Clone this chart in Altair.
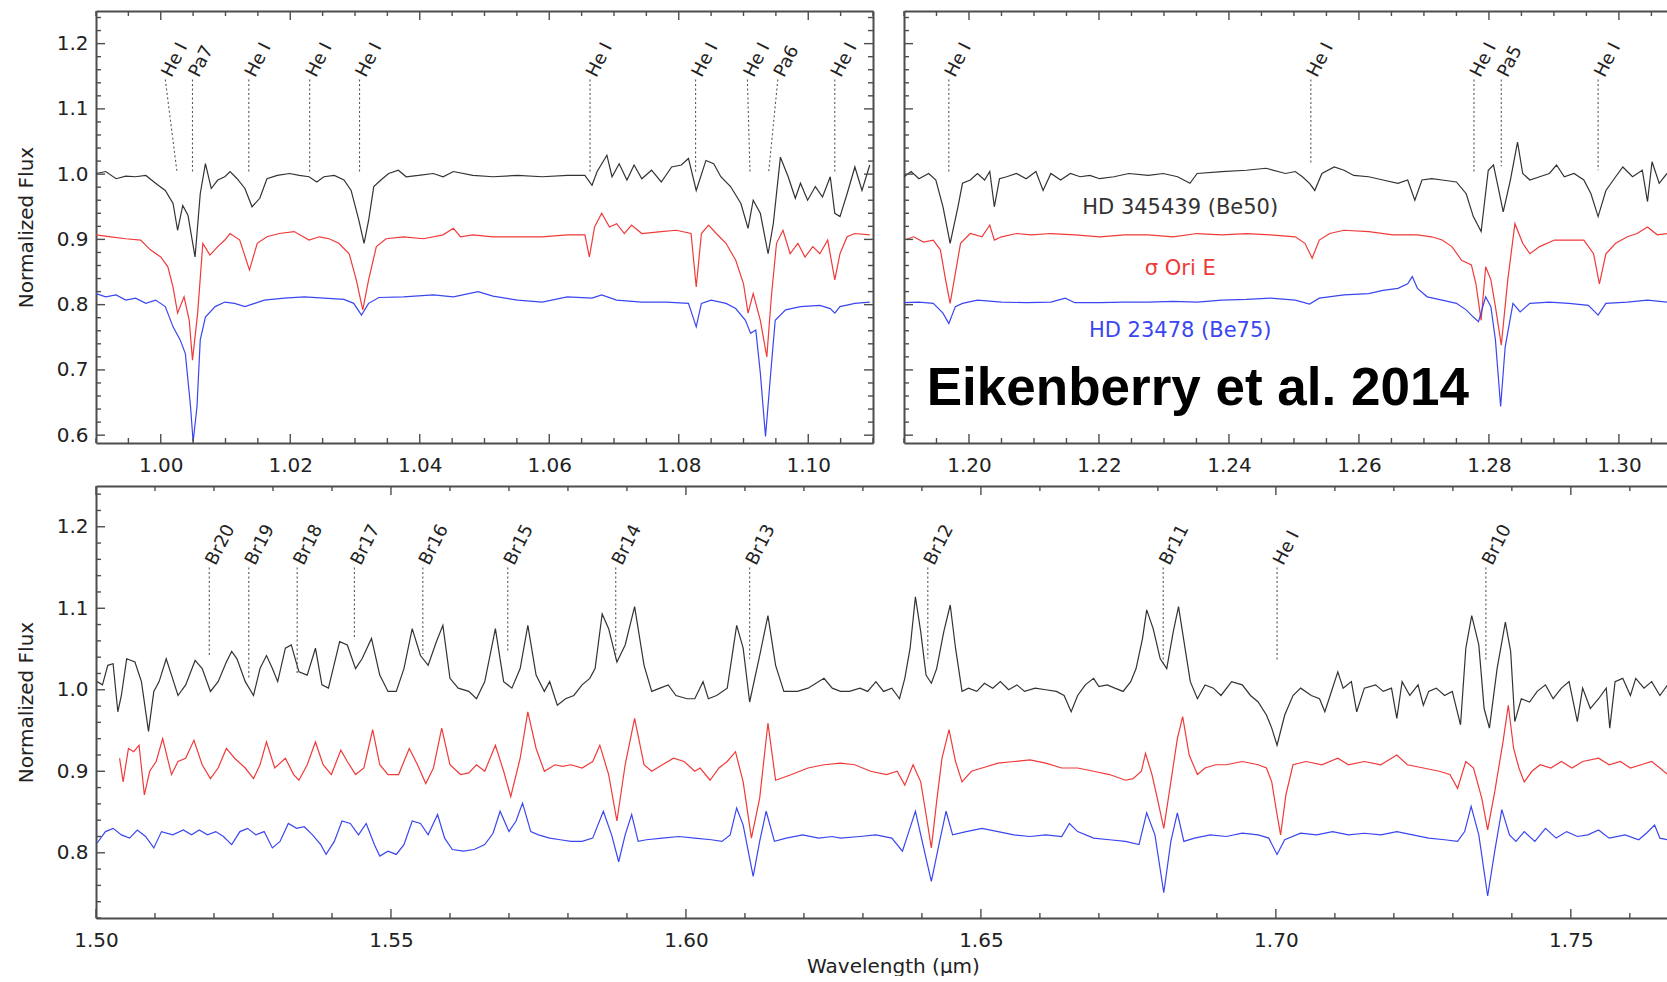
import altair as alt
import numpy as np
import pandas as pd

FONT = "DejaVu Sans"
INK = "#222222"
FRAME = "#4d4d4d"

STAR_NAMES = ["HD 345439 (Be50)", "σ Ori E", "HD 23478 (Be75)"]
STAR_COLORS = ["#333333", "#f03a3a", "#3a46f0"]

# ---------------------------------------------------------------
# Spectra as (wavelength [micron], normalized flux incl. offset)
# ---------------------------------------------------------------
# 0.99 - 1.11 micron
J1_BLACK = [
    (0.9900, 1.001), (0.9915, 1.004), (0.9931, 0.993), (0.9946, 0.997), (0.9961, 0.996),
    (0.9977, 0.998), (0.9992, 0.986), (1.0007, 0.975), (1.0019, 0.955), (1.0026, 0.914),
    (1.0034, 0.952), (1.0042, 0.937), (1.0053, 0.873), (1.0061, 0.970), (1.0069, 1.016),
    (1.0078, 0.978), (1.0088, 0.991), (1.0099, 0.996), (1.0107, 1.004), (1.0118, 0.993),
    (1.0130, 0.978), (1.0141, 0.950), (1.0153, 0.963), (1.0164, 0.993), (1.0180, 0.998),
    (1.0199, 1.001), (1.0214, 0.998), (1.0229, 0.996), (1.0241, 0.988), (1.0252, 0.996),
    (1.0268, 0.998), (1.0283, 0.991), (1.0294, 0.975), (1.0306, 0.929), (1.0314, 0.894),
    (1.0321, 0.929), (1.0329, 0.981), (1.0340, 0.991), (1.0352, 1.001), (1.0367, 1.006),
    (1.0379, 0.996), (1.0398, 0.998), (1.0421, 1.001), (1.0436, 0.996), (1.0452, 1.004),
    (1.0482, 0.998), (1.0513, 0.996), (1.0551, 0.998), (1.0589, 0.996), (1.0628, 0.998),
    (1.0655, 0.998), (1.0666, 0.983), (1.0674, 1.004), (1.0689, 1.029), (1.0697, 0.996),
    (1.0708, 1.016), (1.0720, 0.991), (1.0731, 1.014), (1.0743, 0.993), (1.0758, 1.006),
    (1.0773, 0.988), (1.0789, 1.011), (1.0804, 1.014), (1.0815, 1.024), (1.0827, 0.975),
    (1.0842, 1.021), (1.0854, 1.016), (1.0865, 0.996), (1.0880, 0.981), (1.0896, 0.955),
    (1.0907, 0.917), (1.0915, 0.960), (1.0926, 0.940), (1.0938, 0.878), (1.0946, 0.924),
    (1.0957, 1.026), (1.0969, 0.996), (1.0980, 0.963), (1.0988, 0.986), (1.0999, 0.960),
    (1.1011, 0.981), (1.1022, 0.965), (1.1034, 0.996), (1.1041, 0.940), (1.1049, 0.935),
    (1.1060, 0.970), (1.1072, 1.011), (1.1083, 0.975), (1.1095, 1.014),
]
J1_RED = [
    (0.9900, 0.907), (0.9923, 0.904), (0.9946, 0.901), (0.9969, 0.899), (0.9984, 0.884),
    (1.0000, 0.873), (1.0011, 0.858), (1.0019, 0.827), (1.0026, 0.787), (1.0036, 0.812),
    (1.0044, 0.776), (1.0049, 0.715), (1.0057, 0.787), (1.0065, 0.894), (1.0076, 0.876),
    (1.0088, 0.889), (1.0099, 0.899), (1.0107, 0.909), (1.0122, 0.899), (1.0137, 0.853),
    (1.0149, 0.894), (1.0164, 0.904), (1.0183, 0.909), (1.0206, 0.912), (1.0229, 0.899),
    (1.0245, 0.904), (1.0260, 0.901), (1.0275, 0.894), (1.0291, 0.878), (1.0302, 0.838),
    (1.0312, 0.792), (1.0321, 0.838), (1.0333, 0.889), (1.0348, 0.901), (1.0375, 0.904),
    (1.0406, 0.901), (1.0436, 0.907), (1.0452, 0.917), (1.0463, 0.904), (1.0482, 0.907),
    (1.0513, 0.904), (1.0551, 0.904), (1.0589, 0.904), (1.0628, 0.907), (1.0655, 0.907),
    (1.0662, 0.873), (1.0670, 0.919), (1.0681, 0.940), (1.0693, 0.919), (1.0704, 0.924),
    (1.0716, 0.909), (1.0727, 0.922), (1.0743, 0.909), (1.0773, 0.912), (1.0796, 0.914),
    (1.0819, 0.909), (1.0827, 0.827), (1.0835, 0.909), (1.0846, 0.922), (1.0858, 0.909),
    (1.0873, 0.894), (1.0888, 0.868), (1.0900, 0.832), (1.0907, 0.787), (1.0915, 0.817),
    (1.0926, 0.776), (1.0936, 0.720), (1.0943, 0.812), (1.0951, 0.894), (1.0961, 0.914),
    (1.0972, 0.878), (1.0984, 0.894), (1.0995, 0.873), (1.1007, 0.889), (1.1018, 0.878),
    (1.1030, 0.899), (1.1041, 0.838), (1.1049, 0.878), (1.1060, 0.904), (1.1072, 0.909),
    (1.1095, 0.907),
]
J1_BLUE = [
    (0.9900, 0.817), (0.9915, 0.812), (0.9931, 0.815), (0.9946, 0.807), (0.9961, 0.810),
    (0.9977, 0.802), (0.9992, 0.807), (1.0007, 0.797), (1.0019, 0.766), (1.0030, 0.746),
    (1.0038, 0.725), (1.0046, 0.644), (1.0050, 0.590), (1.0056, 0.644), (1.0061, 0.746),
    (1.0069, 0.781), (1.0084, 0.797), (1.0099, 0.804), (1.0114, 0.802), (1.0130, 0.797),
    (1.0145, 0.802), (1.0160, 0.807), (1.0191, 0.810), (1.0222, 0.812), (1.0252, 0.810),
    (1.0283, 0.808), (1.0298, 0.802), (1.0310, 0.784), (1.0321, 0.802), (1.0337, 0.811),
    (1.0375, 0.812), (1.0421, 0.815), (1.0452, 0.812), (1.0490, 0.820), (1.0513, 0.813),
    (1.0551, 0.807), (1.0589, 0.804), (1.0628, 0.812), (1.0666, 0.810), (1.0681, 0.815),
    (1.0704, 0.807), (1.0743, 0.804), (1.0781, 0.804), (1.0815, 0.802), (1.0827, 0.766),
    (1.0835, 0.802), (1.0850, 0.807), (1.0873, 0.802), (1.0888, 0.794), (1.0903, 0.776),
    (1.0911, 0.756), (1.0919, 0.761), (1.0926, 0.695), (1.0934, 0.598), (1.0942, 0.695),
    (1.0949, 0.776), (1.0965, 0.792), (1.0988, 0.797), (1.1018, 0.799), (1.1034, 0.794),
    (1.1041, 0.787), (1.1049, 0.797), (1.1072, 0.802), (1.1095, 0.804),
]

# 1.19 - 1.31 micron
J2_BLACK = [
    (1.1900, 0.996), (1.1911, 1.004), (1.1923, 0.993), (1.1938, 1.001), (1.1949, 0.991),
    (1.1960, 0.950), (1.1971, 0.894), (1.1983, 0.950), (1.1990, 0.986), (1.2002, 0.991),
    (1.2013, 1.001), (1.2024, 0.991), (1.2032, 1.004), (1.2039, 0.950), (1.2047, 0.993),
    (1.2058, 0.996), (1.2073, 1.001), (1.2088, 0.993), (1.2103, 1.004), (1.2114, 0.975),
    (1.2126, 1.001), (1.2141, 0.991), (1.2156, 1.001), (1.2171, 0.996), (1.2186, 0.998),
    (1.2201, 0.993), (1.2223, 0.996), (1.2246, 1.001), (1.2276, 0.998), (1.2299, 1.001),
    (1.2321, 0.996), (1.2340, 0.986), (1.2351, 1.001), (1.2389, 1.004), (1.2427, 1.006),
    (1.2457, 1.009), (1.2487, 1.001), (1.2502, 1.004), (1.2513, 0.996), (1.2524, 0.986),
    (1.2532, 0.975), (1.2543, 1.001), (1.2562, 1.011), (1.2577, 1.006), (1.2592, 0.998),
    (1.2615, 0.996), (1.2637, 0.991), (1.2660, 0.986), (1.2675, 0.991), (1.2686, 0.960),
    (1.2697, 0.991), (1.2712, 0.993), (1.2728, 0.991), (1.2750, 0.988), (1.2765, 0.970),
    (1.2776, 0.935), (1.2788, 0.912), (1.2799, 1.006), (1.2807, 1.014), (1.2814, 0.981),
    (1.2822, 0.942), (1.2833, 0.991), (1.2844, 1.049), (1.2852, 1.001), (1.2863, 0.991),
    (1.2878, 0.996), (1.2893, 1.001), (1.2904, 1.014), (1.2916, 0.996), (1.2931, 1.001),
    (1.2946, 0.991), (1.2957, 0.970), (1.2968, 0.935), (1.2980, 0.975), (1.2995, 0.996),
    (1.3006, 1.011), (1.3021, 0.996), (1.3036, 1.006), (1.3044, 0.958), (1.3051, 1.019),
    (1.3062, 0.986), (1.3074, 1.001),
]
J2_RED = [
    (1.1900, 0.899), (1.1915, 0.904), (1.1930, 0.896), (1.1945, 0.899), (1.1956, 0.884),
    (1.1964, 0.838), (1.1971, 0.802), (1.1979, 0.848), (1.1987, 0.894), (1.2002, 0.909),
    (1.2020, 0.904), (1.2032, 0.922), (1.2039, 0.899), (1.2050, 0.904), (1.2073, 0.909),
    (1.2096, 0.907), (1.2126, 0.909), (1.2163, 0.907), (1.2201, 0.904), (1.2239, 0.907),
    (1.2276, 0.907), (1.2314, 0.904), (1.2351, 0.909), (1.2389, 0.907), (1.2427, 0.909),
    (1.2464, 0.907), (1.2502, 0.904), (1.2517, 0.894), (1.2528, 0.871), (1.2539, 0.899),
    (1.2555, 0.909), (1.2577, 0.914), (1.2615, 0.912), (1.2652, 0.907), (1.2690, 0.907),
    (1.2712, 0.904), (1.2728, 0.899), (1.2743, 0.889), (1.2758, 0.868), (1.2773, 0.861),
    (1.2780, 0.832), (1.2788, 0.776), (1.2795, 0.858), (1.2803, 0.838), (1.2810, 0.797),
    (1.2819, 0.738), (1.2829, 0.838), (1.2840, 0.924), (1.2852, 0.894), (1.2863, 0.878),
    (1.2878, 0.889), (1.2901, 0.899), (1.2923, 0.899), (1.2946, 0.899), (1.2961, 0.878),
    (1.2970, 0.832), (1.2980, 0.878), (1.2995, 0.894), (1.3013, 0.904), (1.3028, 0.909),
    (1.3044, 0.919), (1.3059, 0.907), (1.3074, 0.909),
]
J2_BLUE = [
    (1.1900, 0.803), (1.1923, 0.804), (1.1945, 0.802), (1.1960, 0.787), (1.1969, 0.771),
    (1.1979, 0.797), (1.1990, 0.802), (1.2013, 0.807), (1.2050, 0.804), (1.2088, 0.803),
    (1.2126, 0.804), (1.2148, 0.810), (1.2163, 0.803), (1.2201, 0.803), (1.2239, 0.804),
    (1.2276, 0.804), (1.2314, 0.805), (1.2351, 0.804), (1.2389, 0.807), (1.2427, 0.808),
    (1.2464, 0.810), (1.2502, 0.807), (1.2524, 0.801), (1.2539, 0.810), (1.2577, 0.815),
    (1.2615, 0.817), (1.2637, 0.822), (1.2660, 0.825), (1.2675, 0.832), (1.2682, 0.843),
    (1.2690, 0.825), (1.2705, 0.812), (1.2728, 0.807), (1.2750, 0.802), (1.2765, 0.792),
    (1.2776, 0.781), (1.2784, 0.774), (1.2795, 0.812), (1.2803, 0.797), (1.2810, 0.746),
    (1.2818, 0.644), (1.2825, 0.735), (1.2837, 0.802), (1.2848, 0.789), (1.2863, 0.802),
    (1.2893, 0.804), (1.2923, 0.802), (1.2953, 0.799), (1.2968, 0.784), (1.2980, 0.802),
    (1.3013, 0.804), (1.3044, 0.807), (1.3074, 0.804),
]

# 1.50 - 1.77 micron
H_BLACK = [
    (1.5002, 1.010), (1.5011, 1.006), (1.5020, 1.030), (1.5029, 1.032), (1.5037, 0.973),
    (1.5043, 0.993), (1.5052, 1.038), (1.5066, 1.034), (1.5077, 1.010), (1.5089, 0.949),
    (1.5098, 0.998), (1.5107, 1.010), (1.5119, 1.038), (1.5128, 1.018), (1.5139, 0.993),
    (1.5152, 1.006), (1.5168, 1.036), (1.5180, 1.026), (1.5194, 0.998), (1.5207, 1.010),
    (1.5221, 1.034), (1.5230, 1.047), (1.5239, 1.038), (1.5253, 1.010), (1.5267, 0.993),
    (1.5278, 1.026), (1.5289, 1.042), (1.5299, 1.026), (1.5308, 1.010), (1.5321, 1.051),
    (1.5331, 1.055), (1.5344, 1.022), (1.5358, 1.018), (1.5372, 1.051), (1.5383, 1.006),
    (1.5394, 1.002), (1.5413, 1.059), (1.5426, 1.055), (1.5440, 1.026), (1.5451, 1.038),
    (1.5467, 1.063), (1.5481, 1.018), (1.5495, 0.998), (1.5509, 0.998), (1.5522, 1.026),
    (1.5536, 1.075), (1.5550, 1.042), (1.5563, 1.030), (1.5577, 1.059), (1.5588, 1.079),
    (1.5600, 1.014), (1.5614, 1.002), (1.5632, 0.998), (1.5645, 0.989), (1.5659, 1.010),
    (1.5677, 1.075), (1.5691, 1.010), (1.5705, 1.002), (1.5719, 1.026), (1.5732, 1.079),
    (1.5746, 1.018), (1.5760, 0.998), (1.5769, 1.010), (1.5782, 0.981), (1.5796, 0.989),
    (1.5810, 0.993), (1.5824, 1.006), (1.5837, 1.014), (1.5846, 1.026), (1.5858, 1.093),
    (1.5869, 1.075), (1.5883, 1.034), (1.5897, 1.055), (1.5913, 1.102), (1.5929, 1.030),
    (1.5942, 0.998), (1.5956, 1.002), (1.5970, 1.006), (1.5983, 0.993), (1.6002, 0.989),
    (1.6015, 0.989), (1.6029, 1.010), (1.6038, 0.989), (1.6052, 0.993), (1.6070, 1.002),
    (1.6086, 1.079), (1.6097, 1.051), (1.6108, 0.985), (1.6125, 1.042), (1.6139, 1.091),
    (1.6152, 1.030), (1.6166, 0.998), (1.6189, 0.998), (1.6207, 1.002), (1.6234, 1.014),
    (1.6248, 1.002), (1.6262, 0.998), (1.6277, 0.998), (1.6295, 1.002), (1.6308, 0.998),
    (1.6322, 1.010), (1.6335, 0.998), (1.6349, 1.002), (1.6362, 0.989), (1.6371, 1.014),
    (1.6380, 1.051), (1.6389, 1.114), (1.6398, 1.071), (1.6407, 1.018), (1.6416, 1.008),
    (1.6425, 1.026), (1.6437, 1.071), (1.6448, 1.104), (1.6457, 1.051), (1.6468, 0.998),
    (1.6479, 1.002), (1.6493, 0.998), (1.6506, 1.008), (1.6520, 1.002), (1.6533, 1.010),
    (1.6547, 1.000), (1.6561, 1.006), (1.6574, 0.998), (1.6592, 1.002), (1.6610, 1.000),
    (1.6628, 0.998), (1.6641, 0.993), (1.6653, 0.973), (1.6664, 0.993), (1.6677, 1.006),
    (1.6691, 1.014), (1.6700, 1.004), (1.6714, 1.006), (1.6727, 1.002), (1.6741, 0.998),
    (1.6754, 1.010), (1.6763, 1.026), (1.6774, 1.063), (1.6781, 1.098), (1.6792, 1.075),
    (1.6804, 1.038), (1.6815, 1.026), (1.6826, 1.071), (1.6835, 1.102), (1.6846, 1.051),
    (1.6855, 1.010), (1.6867, 0.989), (1.6880, 1.006), (1.6894, 1.002), (1.6907, 0.993),
    (1.6925, 1.010), (1.6943, 1.006), (1.6957, 0.993), (1.6970, 0.985), (1.6984, 0.969),
    (1.6993, 0.953), (1.7002, 0.932), (1.7015, 0.969), (1.7029, 0.993), (1.7042, 1.002),
    (1.7060, 0.993), (1.7074, 0.989), (1.7083, 0.973), (1.7092, 0.993), (1.7105, 1.022),
    (1.7114, 1.002), (1.7128, 1.010), (1.7137, 0.973), (1.7150, 1.002), (1.7169, 1.006),
    (1.7182, 0.998), (1.7196, 1.002), (1.7205, 0.965), (1.7214, 1.010), (1.7227, 0.993),
    (1.7241, 1.006), (1.7250, 0.981), (1.7259, 0.998), (1.7272, 1.002), (1.7286, 0.993),
    (1.7299, 0.998), (1.7313, 0.957), (1.7322, 1.051), (1.7332, 1.091), (1.7344, 1.055),
    (1.7353, 0.977), (1.7362, 0.953), (1.7375, 1.026), (1.7389, 1.083), (1.7398, 1.047),
    (1.7405, 0.961), (1.7416, 0.989), (1.7430, 0.985), (1.7443, 0.998), (1.7457, 1.006),
    (1.7470, 0.989), (1.7484, 1.002), (1.7497, 1.010), (1.7511, 0.961), (1.7520, 1.002),
    (1.7533, 0.977), (1.7547, 0.989), (1.7560, 1.002), (1.7566, 0.953), (1.7575, 1.010),
    (1.7588, 1.014), (1.7601, 0.993), (1.7610, 1.014), (1.7624, 1.002), (1.7637, 1.010),
    (1.7651, 0.993), (1.7664, 1.006),
]
H_RED = [
    (1.5040, 0.916), (1.5046, 0.887), (1.5055, 0.928), (1.5064, 0.924), (1.5073, 0.932),
    (1.5082, 0.871), (1.5091, 0.900), (1.5102, 0.912), (1.5113, 0.940), (1.5128, 0.896),
    (1.5139, 0.912), (1.5152, 0.916), (1.5166, 0.938), (1.5180, 0.908), (1.5194, 0.891),
    (1.5207, 0.904), (1.5221, 0.928), (1.5235, 0.916), (1.5253, 0.904), (1.5267, 0.891),
    (1.5278, 0.908), (1.5289, 0.936), (1.5303, 0.904), (1.5321, 0.916), (1.5335, 0.896),
    (1.5344, 0.889), (1.5358, 0.908), (1.5372, 0.936), (1.5385, 0.908), (1.5399, 0.896),
    (1.5415, 0.926), (1.5426, 0.912), (1.5440, 0.896), (1.5454, 0.904), (1.5469, 0.951),
    (1.5481, 0.908), (1.5495, 0.896), (1.5513, 0.896), (1.5531, 0.928), (1.5545, 0.908),
    (1.5559, 0.885), (1.5572, 0.904), (1.5586, 0.953), (1.5600, 0.908), (1.5618, 0.896),
    (1.5632, 0.898), (1.5645, 0.908), (1.5659, 0.900), (1.5677, 0.932), (1.5691, 0.900),
    (1.5703, 0.869), (1.5719, 0.916), (1.5732, 0.973), (1.5746, 0.928), (1.5760, 0.900),
    (1.5778, 0.908), (1.5791, 0.906), (1.5805, 0.908), (1.5824, 0.904), (1.5842, 0.912),
    (1.5854, 0.932), (1.5869, 0.896), (1.5883, 0.839), (1.5897, 0.908), (1.5913, 0.965),
    (1.5929, 0.908), (1.5942, 0.900), (1.5960, 0.908), (1.5979, 0.916), (1.5997, 0.912),
    (1.6015, 0.900), (1.6024, 0.904), (1.6041, 0.889), (1.6056, 0.904), (1.6070, 0.912),
    (1.6084, 0.924), (1.6097, 0.887), (1.6111, 0.818), (1.6125, 0.867), (1.6139, 0.959),
    (1.6152, 0.889), (1.6179, 0.896), (1.6207, 0.904), (1.6234, 0.908), (1.6262, 0.910),
    (1.6286, 0.908), (1.6313, 0.900), (1.6340, 0.896), (1.6358, 0.900), (1.6371, 0.883),
    (1.6385, 0.908), (1.6398, 0.887), (1.6407, 0.847), (1.6416, 0.806), (1.6425, 0.863),
    (1.6434, 0.916), (1.6446, 0.951), (1.6457, 0.912), (1.6468, 0.887), (1.6484, 0.900),
    (1.6502, 0.904), (1.6529, 0.910), (1.6556, 0.912), (1.6583, 0.914), (1.6610, 0.910),
    (1.6637, 0.904), (1.6664, 0.904), (1.6691, 0.900), (1.6718, 0.896), (1.6745, 0.889),
    (1.6758, 0.891), (1.6772, 0.900), (1.6779, 0.922), (1.6790, 0.896), (1.6799, 0.867),
    (1.6810, 0.830), (1.6822, 0.887), (1.6833, 0.940), (1.6842, 0.967), (1.6853, 0.920),
    (1.6867, 0.896), (1.6880, 0.904), (1.6898, 0.908), (1.6916, 0.908), (1.6943, 0.912),
    (1.6970, 0.908), (1.6984, 0.904), (1.6993, 0.887), (1.7002, 0.847), (1.7008, 0.822),
    (1.7017, 0.871), (1.7029, 0.908), (1.7051, 0.912), (1.7078, 0.908), (1.7105, 0.916),
    (1.7123, 0.908), (1.7150, 0.912), (1.7178, 0.908), (1.7205, 0.920), (1.7223, 0.908),
    (1.7250, 0.904), (1.7277, 0.900), (1.7295, 0.896), (1.7308, 0.879), (1.7322, 0.912),
    (1.7335, 0.904), (1.7349, 0.867), (1.7359, 0.828), (1.7371, 0.875), (1.7385, 0.936),
    (1.7394, 0.981), (1.7403, 0.928), (1.7412, 0.904), (1.7421, 0.887), (1.7434, 0.900),
    (1.7448, 0.908), (1.7466, 0.904), (1.7484, 0.912), (1.7502, 0.904), (1.7520, 0.912),
    (1.7547, 0.916), (1.7565, 0.908), (1.7584, 0.912), (1.7601, 0.904), (1.7619, 0.908),
    (1.7637, 0.912), (1.7651, 0.904), (1.7664, 0.896),
]
H_BLUE = [
    (1.5002, 0.812), (1.5016, 0.826), (1.5029, 0.830), (1.5043, 0.822), (1.5057, 0.818),
    (1.5070, 0.828), (1.5084, 0.820), (1.5098, 0.806), (1.5111, 0.826), (1.5130, 0.822),
    (1.5148, 0.828), (1.5162, 0.822), (1.5175, 0.828), (1.5189, 0.822), (1.5203, 0.826),
    (1.5216, 0.820), (1.5230, 0.810), (1.5244, 0.826), (1.5257, 0.830), (1.5271, 0.822),
    (1.5285, 0.826), (1.5299, 0.806), (1.5312, 0.814), (1.5326, 0.836), (1.5340, 0.830),
    (1.5353, 0.832), (1.5367, 0.822), (1.5381, 0.810), (1.5390, 0.798), (1.5404, 0.814),
    (1.5417, 0.839), (1.5431, 0.836), (1.5445, 0.822), (1.5458, 0.836), (1.5472, 0.810),
    (1.5481, 0.796), (1.5495, 0.802), (1.5509, 0.798), (1.5522, 0.810), (1.5536, 0.839),
    (1.5550, 0.836), (1.5563, 0.822), (1.5579, 0.847), (1.5591, 0.818), (1.5604, 0.804),
    (1.5623, 0.802), (1.5641, 0.804), (1.5659, 0.810), (1.5673, 0.824), (1.5685, 0.851),
    (1.5700, 0.826), (1.5712, 0.839), (1.5723, 0.861), (1.5737, 0.826), (1.5750, 0.822),
    (1.5769, 0.818), (1.5787, 0.816), (1.5805, 0.814), (1.5824, 0.814), (1.5842, 0.818),
    (1.5860, 0.851), (1.5874, 0.822), (1.5886, 0.789), (1.5897, 0.822), (1.5908, 0.847),
    (1.5919, 0.814), (1.5933, 0.816), (1.5960, 0.818), (1.5988, 0.820), (1.6015, 0.818),
    (1.6043, 0.816), (1.6061, 0.814), (1.6075, 0.822), (1.6086, 0.855), (1.6097, 0.834),
    (1.6114, 0.771), (1.6125, 0.814), (1.6136, 0.851), (1.6150, 0.814), (1.6170, 0.818),
    (1.6198, 0.822), (1.6225, 0.818), (1.6248, 0.820), (1.6262, 0.818), (1.6295, 0.820),
    (1.6322, 0.822), (1.6349, 0.818), (1.6367, 0.802), (1.6376, 0.822), (1.6389, 0.851),
    (1.6403, 0.806), (1.6416, 0.765), (1.6430, 0.814), (1.6441, 0.851), (1.6452, 0.822),
    (1.6475, 0.826), (1.6502, 0.830), (1.6529, 0.826), (1.6556, 0.822), (1.6583, 0.820),
    (1.6610, 0.822), (1.6637, 0.820), (1.6650, 0.836), (1.6664, 0.826), (1.6691, 0.818),
    (1.6718, 0.816), (1.6745, 0.814), (1.6768, 0.810), (1.6781, 0.849), (1.6795, 0.822),
    (1.6810, 0.751), (1.6822, 0.814), (1.6833, 0.849), (1.6844, 0.814), (1.6862, 0.818),
    (1.6889, 0.822), (1.6916, 0.820), (1.6943, 0.824), (1.6970, 0.822), (1.6988, 0.818),
    (1.7002, 0.798), (1.7015, 0.816), (1.7042, 0.824), (1.7069, 0.822), (1.7096, 0.826),
    (1.7123, 0.822), (1.7150, 0.824), (1.7178, 0.822), (1.7205, 0.826), (1.7232, 0.822),
    (1.7259, 0.818), (1.7286, 0.816), (1.7308, 0.814), (1.7320, 0.826), (1.7331, 0.857),
    (1.7344, 0.822), (1.7359, 0.747), (1.7371, 0.802), (1.7383, 0.853), (1.7396, 0.822),
    (1.7407, 0.814), (1.7421, 0.826), (1.7439, 0.814), (1.7457, 0.830), (1.7475, 0.818),
    (1.7493, 0.826), (1.7511, 0.820), (1.7529, 0.822), (1.7547, 0.828), (1.7565, 0.818),
    (1.7592, 0.822), (1.7615, 0.816), (1.7628, 0.824), (1.7642, 0.834), (1.7651, 0.818),
    (1.7664, 0.816),
]

# ---------------------------------------------------------------
# Line identifications: (label, wavelength at label, wavelength at
# spectrum, flux where the dotted guide ends)
# ---------------------------------------------------------------
J1_LINES = [
    ("He I", 1.0007, 1.0025, 1.004), ("Pa7", 1.0049, 1.0049, 1.004),
    ("He I", 1.0136, 1.0136, 1.004), ("He I", 1.0230, 1.0230, 1.004),
    ("He I", 1.0307, 1.0307, 1.004), ("He I", 1.0663, 1.0663, 1.004),
    ("He I", 1.0826, 1.0826, 1.004), ("He I", 1.0906, 1.0910, 1.004),
    ("Pa6", 1.0953, 1.0939, 1.004), ("He I", 1.1041, 1.1041, 1.004),
]
J2_LINES = [
    ("He I", 1.1969, 1.1969, 1.004), ("He I", 1.2526, 1.2526, 1.015),
    ("He I", 1.2777, 1.2777, 1.004), ("Pa5", 1.2819, 1.2819, 1.012),
    ("He I", 1.2968, 1.2968, 1.006),
]
H_LINES = [
    ("Br20", 1.5192, 1.5192, 1.040), ("Br19", 1.5259, 1.5259, 1.014),
    ("Br18", 1.5341, 1.5341, 1.020), ("Br17", 1.5438, 1.5438, 1.062),
    ("Br16", 1.5554, 1.5554, 1.044), ("Br15", 1.5698, 1.5698, 1.046),
    ("Br14", 1.5881, 1.5881, 1.038), ("Br13", 1.6108, 1.6108, 1.038),
    ("Br12", 1.6410, 1.6410, 1.038), ("Br11", 1.6809, 1.6809, 1.032),
    ("He I", 1.7002, 1.7002, 1.036), ("Br10", 1.7356, 1.7356, 1.036),
]
J_GUIDE_TOP = 1.145
H_GUIDE_TOP = 1.150

# star names written next to their spectra in the 1.19-1.31 window
STAR_LABEL_WAVE = 1.2325
STAR_LABEL_FLUX = [0.948, 0.855, 0.760]
CREDIT = "Eikenberry et al. 2014"
CREDIT_POS = (1.1935, 0.646)

# axes
J1_DOMAIN, J2_DOMAIN, H_DOMAIN = (0.99, 1.11), (1.19, 1.3074), (1.50, 1.7663)
J_FLUX_DOMAIN, H_FLUX_DOMAIN = (0.588, 1.25), (0.72, 1.25)
J1_TICKS = [1.00, 1.02, 1.04, 1.06, 1.08, 1.10]
J2_TICKS = [1.20, 1.22, 1.24, 1.26, 1.28, 1.30]
H_TICKS = [1.50, 1.55, 1.60, 1.65, 1.70, 1.75]
J_FLUX_TICKS = [0.6, 0.7, 0.8, 0.9, 1.0, 1.1, 1.2]
H_FLUX_TICKS = [0.8, 0.9, 1.0, 1.1, 1.2]

PANEL_H = 432
MAJOR, MINOR = 9, 5


def minor_ticks(lo, hi, step, majors):
    vals = np.round(np.arange(np.ceil(lo / step) * step, hi + 1e-9, step), 4)
    return [float(v) for v in vals if min(abs(v - m) for m in majors) > 1e-6]


def panel(series, x_dom, y_dom, width, x_major, x_step, y_major, y_step,
          lines, guide_top, y_labels=True, right_frame=False, x_title=None):
    xs = alt.Scale(domain=list(x_dom), nice=False, zero=False)
    ys = alt.Scale(domain=list(y_dom), nice=False, zero=False)

    rows = []
    for name, pts in zip(STAR_NAMES, series):
        rows += [{"wave": w, "flux": f, "star": name} for w, f in pts]
    spec = pd.DataFrame(rows)

    x_axis_kw = dict(values=x_major, format=".2f", ticks=False, tickSize=0,
                     labelFlush=False, labelPadding=12, grid=False)
    if x_title:
        x_axis_kw.update(title=x_title, titlePadding=6, titleX=797)
    else:
        x_axis_kw.update(title=None)
    if y_labels:
        y_axis = alt.Axis(values=y_major, format=".1f", ticks=False, tickSize=0,
                          labelFlush=False, labelPadding=8, grid=False,
                          title="Normalized Flux", titlePadding=20)
    else:
        y_axis = alt.Axis(labels=False, ticks=False, tickSize=0, grid=False, title=None)

    layers = [
        alt.Chart(spec).mark_line(clip=True, strokeWidth=1.2).encode(
            x=alt.X("wave:Q", scale=xs, axis=alt.Axis(**x_axis_kw)),
            y=alt.Y("flux:Q", scale=ys, axis=y_axis),
            color=alt.Color("star:N", scale=alt.Scale(domain=STAR_NAMES, range=STAR_COLORS),
                            legend=None),
        )
    ]

    frame_axis_top = alt.Axis(orient="top", labels=False, ticks=False, tickSize=0,
                              grid=False, title=None)
    frame_axis_right = alt.Axis(orient="right", labels=False, ticks=False, tickSize=0,
                                grid=False, title=None)

    # inward tick marks along the frame
    x_minor = minor_ticks(x_dom[0], x_dom[1], x_step, x_major)
    y_minor = minor_ticks(y_dom[0], y_dom[1], y_step, y_major)
    for vals, size, top_axis in ((x_major, MAJOR, True), (x_minor, MINOR, False)):
        df = pd.DataFrame({"v": vals})
        layers.append(alt.Chart(df).mark_rule(color=FRAME, strokeWidth=1.4).encode(
            x=alt.X("v:Q", scale=xs, axis=frame_axis_top if top_axis else None),
            y=alt.value(0), y2=alt.value(size)))
        layers.append(alt.Chart(df).mark_rule(color=FRAME, strokeWidth=1.4).encode(
            x=alt.X("v:Q", scale=xs, axis=None),
            y=alt.value(PANEL_H), y2=alt.value(PANEL_H - size)))
    for vals, size, own_axis in ((y_major, MAJOR, True), (y_minor, MINOR, False)):
        df = pd.DataFrame({"v": vals})
        layers.append(alt.Chart(df).mark_rule(color=FRAME, strokeWidth=1.4).encode(
            y=alt.Y("v:Q", scale=ys,
                    axis=frame_axis_right if (own_axis and right_frame) else None),
            x=alt.value(0), x2=alt.value(size)))
        if right_frame:
            layers.append(alt.Chart(df).mark_rule(color=FRAME, strokeWidth=1.4).encode(
                y=alt.Y("v:Q", scale=ys, axis=None),
                x=alt.value(width), x2=alt.value(width - size)))

    # dotted guides and rotated identifications
    ids = pd.DataFrame(lines, columns=["label", "x_top", "x_bot", "y_bot"])
    ids["y_top"] = guide_top
    layers.append(alt.Chart(ids).mark_rule(color="#555555", strokeWidth=1.1,
                                           strokeDash=[2, 2.5]).encode(
        x=alt.X("x_top:Q", scale=xs, axis=None), x2="x_bot:Q",
        y=alt.Y("y_top:Q", scale=ys, axis=None), y2="y_bot:Q"))
    layers.append(alt.Chart(ids).mark_text(angle=297, align="left", baseline="middle",
                                           dx=4, font=FONT, fontSize=18,
                                           color=INK).encode(
        x=alt.X("x_top:Q", scale=xs, axis=None),
        y=alt.Y("y_top:Q", scale=ys, axis=None),
        text="label:N"))

    return layers, xs, ys


def finish(layers, width):
    return (alt.layer(*layers)
            .resolve_axis(x="independent", y="independent")
            .properties(width=width, height=PANEL_H))


# --- 0.99-1.11 micron window ---
tl_layers, _, _ = panel([J1_BLACK, J1_RED, J1_BLUE], J1_DOMAIN, J_FLUX_DOMAIN, 777,
                        J1_TICKS, 0.005, J_FLUX_TICKS, 0.02, J1_LINES, J_GUIDE_TOP,
                        right_frame=True)
top_left = finish(tl_layers, 777)

# --- 1.19-1.31 micron window, with star names and credit ---
tr_layers, xs2, ys2 = panel([J2_BLACK, J2_RED, J2_BLUE], J2_DOMAIN, J_FLUX_DOMAIN, 763,
                            J2_TICKS, 0.005, J_FLUX_TICKS, 0.02, J2_LINES, J_GUIDE_TOP,
                            y_labels=False)
names = pd.DataFrame({"name": STAR_NAMES, "wave": STAR_LABEL_WAVE, "flux": STAR_LABEL_FLUX})
tr_layers.append(alt.Chart(names).mark_text(font=FONT, fontSize=21, align="center",
                                            baseline="middle").encode(
    x=alt.X("wave:Q", scale=xs2, axis=None),
    y=alt.Y("flux:Q", scale=ys2, axis=None),
    text="name:N",
    color=alt.Color("name:N", scale=alt.Scale(domain=STAR_NAMES, range=STAR_COLORS),
                    legend=None)))
credit = pd.DataFrame({"text": [CREDIT], "wave": [CREDIT_POS[0]], "flux": [CREDIT_POS[1]]})
tr_layers.append(alt.Chart(credit).mark_text(font="Liberation Sans", fontSize=53,
                                             fontWeight="bold", align="left",
                                             baseline="alphabetic", color="#000000").encode(
    x=alt.X("wave:Q", scale=xs2, axis=None),
    y=alt.Y("flux:Q", scale=ys2, axis=None),
    text="text:N"))
top_right = finish(tr_layers, 763)

# --- 1.50-1.77 micron window ---
b_layers, _, _ = panel([H_BLACK, H_RED, H_BLUE], H_DOMAIN, H_FLUX_DOMAIN, 1571,
                       H_TICKS, 0.01, H_FLUX_TICKS, 0.02, H_LINES, H_GUIDE_TOP,
                       x_title="Wavelength (µm)")
bottom = finish(b_layers, 1571)

chart = (
    alt.vconcat(alt.hconcat(top_left, top_right, spacing=29), bottom, spacing=10)
    .properties(padding={"left": 16, "top": 10, "right": 0, "bottom": 0},
                background="#ffffff")
    .configure_axis(labelFont=FONT, labelFontSize=20, labelColor=INK,
                    titleFont=FONT, titleFontSize=20, titleColor=INK,
                    titleFontWeight="normal", domainColor=FRAME, domainWidth=2)
    .configure_view(stroke=None)
)

chart.save("out.html", embed_options={"renderer": "svg", "actions": False})
